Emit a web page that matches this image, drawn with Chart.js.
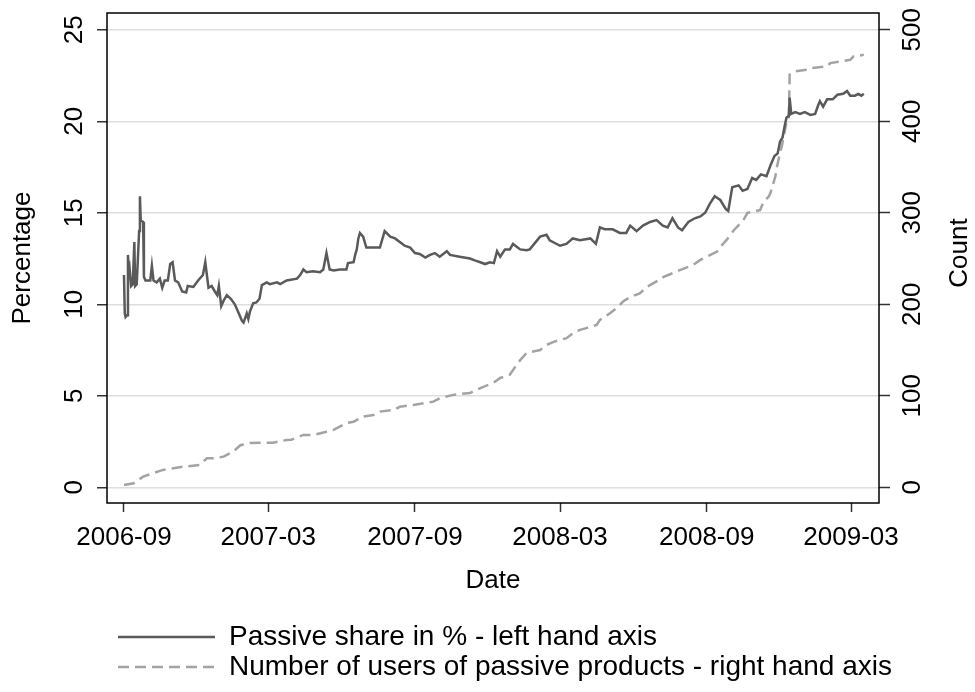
<!DOCTYPE html>
<html>
<head>
<meta charset="utf-8">
<script src="https://cdn.jsdelivr.net/npm/chart.js@4.4.1/dist/chart.umd.min.js"></script>
<style>
html,body{margin:0;padding:0;background:#fff;}
canvas{display:block;}
</style>
</head>
<body>
<canvas id="c" width="975" height="692"></canvas>
<script>
// ---- data (x = days since 2006-09-01) ----
const shareDays = [0,1,2,4,5,6,7,9,11,13,14,16,19,20,21,24,25,27,30,33,35,37,41,45,48,51,55,58,61,64,68,73,78,80,87,93,99,102,104,106,110,114,117,119,122,125,129,134,139,143,148,150,154,156,158,162,166,170,173,179,183,192,196,204,217,221,225,229,237,246,250,254,258,263,271,279,281,288,290,292,294,296,300,304,313,321,327,334,340,346,352,359,365,371,378,384,390,396,405,409,421,434,440,447,453,459,464,468,472,478,484,488,497,505,509,522,530,534,547,555,563,572,585,592,597,603,613,622,630,635,643,651,660,668,676,682,688,695,700,708,716,723,729,735,741,748,755,758,763,771,776,782,788,793,799,806,811,816,820,823,826,829,831,834,835,837,842,848,854,861,867,871,873,877,882,889,895,902,907,911,917,921,925,928];
const shareValues = [11.6,9.5,9.3,9.4,12.7,11.8,12.0,11.0,11.1,13.4,11.0,11.1,14.0,15.9,14.6,14.5,11.5,11.3,11.3,11.3,12.1,11.3,11.2,11.4,10.9,11.3,11.3,12.2,12.3,11.3,11.2,10.7,10.65,11.0,10.95,11.3,11.6,12.3,11.6,10.9,11.0,10.7,10.5,11.0,9.9,10.2,10.5,10.3,10.0,9.6,9.1,9.0,9.5,9.2,9.6,10.05,10.1,10.3,11.05,11.2,11.1,11.2,11.1,11.3,11.4,11.6,11.9,11.75,11.8,11.75,11.9,12.8,11.9,11.85,11.9,11.9,12.25,12.3,12.7,13.0,13.6,13.9,13.7,13.1,13.1,13.1,14.0,13.7,13.6,13.4,13.2,13.1,12.8,12.75,12.55,12.7,12.8,12.6,12.9,12.7,12.6,12.5,12.4,12.3,12.2,12.3,12.25,12.9,12.6,13.0,13.0,13.3,13.0,12.95,13.0,13.7,13.8,13.5,13.2,13.3,13.6,13.5,13.6,13.3,14.2,14.1,14.1,13.9,13.9,14.3,14.0,14.3,14.5,14.6,14.3,14.2,14.7,14.2,14.05,14.5,14.7,14.8,15.0,15.5,15.9,15.7,15.2,15.1,16.4,16.5,16.2,16.3,16.9,16.8,17.1,17.0,17.6,18.1,18.25,18.9,19.1,19.8,20.2,20.3,21.3,20.4,20.5,20.4,20.5,20.35,20.4,20.9,21.1,20.8,21.2,21.2,21.45,21.5,21.65,21.4,21.4,21.5,21.4,21.5];
const userDays = [0,12,24,37,49,62,74,95,104,112,125,137,146,158,171,187,204,210,225,238,254,263,279,288,300,313,321,338,346,363,376,388,396,413,422,434,447,463,472,484,491,497,505,522,530,539,555,564,572,580,593,597,610,618,626,635,647,656,668,677,693,698,714,723,744,748,756,765,777,782,798,802,809,811,817,819,823,825,831,834,835,840,857,861,882,886,911,915,928];
const userValues = [2.5,4.4,11.6,15.6,19,20.7,22.5,24.4,31.7,31.7,33.5,39,46,48.4,48.8,48.8,51.7,52,57.2,57.2,60.8,62.7,70.3,71.7,77.2,79,82.7,84.5,88,90,92,93.6,97.3,101,102,103,108.5,114,119.5,123,131.9,139,146.8,150,155.6,159,163,168.7,172,174,177.5,183,190.4,196,203,208,212,219,225,230,235.7,237.6,243,248.5,257.6,262.7,270.4,281,292,300,303,311.5,318,321.8,339.5,350,365.7,372,398.6,401,451,454.4,456.3,458,460,463.6,467.2,470.8,472.7];
const xTickDays = [0,181,365,547,731,912];
const xTickLabels = ['2006-09','2007-03','2007-09','2008-03','2008-09','2009-03'];
const leftTicks = [0,5,10,15,20,25];
const rightTicks = [0,100,200,300,400,500];
const seriesNames = ['Passive share in % - left hand axis','Number of users of passive products - right hand axis'];

// ---- chart ----
const FONT = '"Liberation Sans", Arial, Helvetica, sans-serif';
Chart.defaults.font.family = FONT;
Chart.defaults.color = '#000';

function zeroPad(s){ s.paddingTop = 0; s.paddingBottom = 0; s.paddingLeft = 0; s.paddingRight = 0; }

const framePlugin = {
  id: 'frame',
  afterLayout(chart) {
    if (chart.legend) { chart.legend.left = 116; }
  },
  beforeDatasetsDraw(chart) {
    const {ctx, chartArea: a} = chart;
    ctx.save();
    ctx.strokeStyle = '#000';
    ctx.lineWidth = 1.5;
    ctx.strokeRect(a.left, a.top, a.right - a.left, a.bottom - a.top);
    ctx.restore();
  },
  afterDraw(chart) {
    const ctx = chart.ctx;
    ctx.save();
    ctx.font = '26px ' + FONT;
    ctx.fillStyle = '#000';
    ctx.textAlign = 'center';
    ctx.textBaseline = 'middle';
    ctx.translate(960, 253);
    ctx.rotate(-Math.PI / 2);
    ctx.fillText('Count', 0, 0);
    ctx.restore();
  }
};

new Chart(document.getElementById('c'), {
  type: 'line',
  data: {
    datasets: [
      {
        label: seriesNames[0],
        data: shareDays.map((d, i) => ({x: d, y: shareValues[i]})),
        yAxisID: 'y',
        borderColor: '#5a5a5a',
        backgroundColor: '#5a5a5a',
        borderWidth: 2.5,
        pointRadius: 0,
        tension: 0,
        fill: false
      },
      {
        label: seriesNames[1],
        data: userDays.map((d, i) => ({x: d, y: userValues[i]})),
        yAxisID: 'y1',
        borderColor: '#a3a3a3',
        backgroundColor: '#a3a3a3',
        borderWidth: 2.5,
        borderDash: [11, 6],
        pointRadius: 0,
        tension: 0,
        fill: false
      }
    ]
  },
  options: {
    responsive: false,
    animation: false,
    devicePixelRatio: 1,
    layout: {padding: {top: 13, bottom: 1, left: 0, right: 0}},
    plugins: {
      tooltip: {enabled: false},
      legend: {
        position: 'bottom',
        align: 'start',
        labels: {
          usePointStyle: true,
          pointStyle: 'line',
          pointStyleWidth: 97,
          color: '#000',
          padding: 2,
          font: {size: 28},
          generateLabels: chart => {
            const items = Chart.defaults.plugins.legend.labels.generateLabels(chart);
            items.forEach(it => {
              const ds = chart.data.datasets[it.datasetIndex];
              it.strokeStyle = ds.borderColor;
              it.fillStyle = ds.borderColor;
              it.lineWidth = ds.borderWidth;
              it.lineDash = ds.borderDash || [];
              it.pointStyle = 'line';
            });
            return items;
          }
        }
      }
    },
    scales: {
      x: {
        type: 'linear',
        min: -21.3,
        max: 947.1,
        afterBuildTicks: s => { s.ticks = xTickDays.map(v => ({value: v})); },
        afterFit: s => { s.height = 118; zeroPad(s); },
        border: {display: false},
        grid: {drawOnChartArea: false, drawTicks: true, tickLength: 9, tickColor: '#333', tickWidth: 1.5},
        ticks: {
          autoSkip: false, minRotation: 0, maxRotation: 0, padding: 10, color: '#000',
          font: {size: 26},
          callback: v => { const i = xTickDays.indexOf(v); return i >= 0 ? xTickLabels[i] : ''; }
        },
        title: {display: true, text: 'Date', color: '#000', font: {size: 26}, padding: {top: 0, bottom: 25}}
      },
      y: {
        type: 'linear',
        position: 'left',
        min: -0.858,
        max: 25.918,
        afterBuildTicks: s => { s.ticks = leftTicks.map(v => ({value: v})); },
        afterFit: s => { s.width = 107; zeroPad(s); },
        border: {display: false},
        grid: {color: '#dedede', lineWidth: 1.5, drawTicks: true, tickLength: 10, tickColor: '#333', tickWidth: 1.5},
        ticks: {autoSkip: false, minRotation: 90, maxRotation: 90, crossAlign: 'center', padding: 7.5, color: '#000', font: {size: 26}},
        title: {display: true, text: 'Percentage', color: '#000', font: {size: 26}, padding: {top: 7.4, bottom: 0}}
      },
      y1: {
        type: 'linear',
        position: 'right',
        min: -17.16,
        max: 518.36,
        afterBuildTicks: s => { s.ticks = rightTicks.map(v => ({value: v})); },
        afterFit: s => { s.width = 96; zeroPad(s); },
        border: {display: false},
        grid: {drawOnChartArea: false, drawTicks: true, tickLength: 11, tickColor: '#333', tickWidth: 1.5},
        ticks: {autoSkip: false, minRotation: 90, maxRotation: 90, crossAlign: 'center', padding: 1, color: '#000', font: {size: 26}}
      }
    }
  },
  plugins: [framePlugin]
});
</script>
</body>
</html>
